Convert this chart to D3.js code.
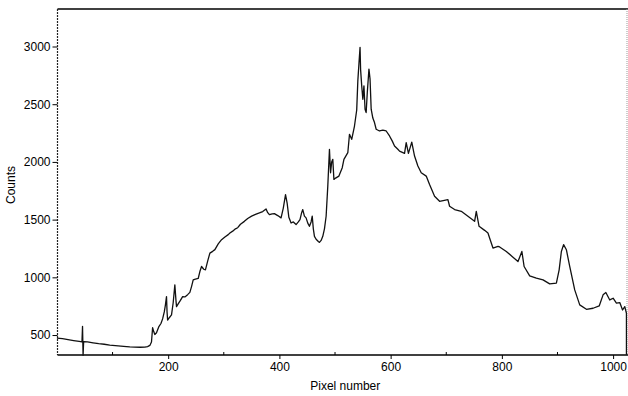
<!DOCTYPE html>
<html>
<head>
<meta charset="utf-8">
<script src="https://cdn.jsdelivr.net/npm/d3@7"></script>
<style>
  html, body { margin: 0; padding: 0; background: #fff; }
  svg { display: block; }
  text { font-family: "Liberation Sans", Arial, sans-serif; font-size: 12px; fill: #000; }
</style>
</head>
<body>
<svg id="chart" width="628" height="396"></svg>
<script>
// Spectrum: detector pixel index and measured counts
const pixels = [0, 10, 20, 30, 40, 45, 46, 47, 48, 55, 65, 75, 85, 95, 105, 115, 125, 131, 140, 150,
  158, 163, 167, 170, 172, 174, 176, 179, 183, 187, 190, 193, 195, 197, 198, 199, 202, 206, 209, 212,
  214, 215, 218, 222, 226, 230, 235, 239, 242, 245, 249, 254, 257, 260, 264, 267, 271, 275, 280, 284,
  290, 296, 302, 308, 311, 316, 321, 325, 330, 337, 343, 350, 357, 364, 370, 376, 379, 382, 387, 391,
  397, 403, 407, 411, 414, 417, 421, 425, 430, 434, 437, 440, 442, 445, 448, 451, 454, 457, 459, 461,
  463, 466, 470, 472, 475, 478, 481, 484, 487, 490, 492, 494, 496, 498, 501, 507, 513, 516, 523, 526,
  530, 535, 539, 541, 543, 545, 546, 548, 550, 552, 554, 556, 558, 561, 563, 565, 568, 571, 574, 580,
  586, 592, 598, 603, 607, 613, 616, 625, 628, 632, 638, 643, 649, 655, 664, 670, 679, 688, 703, 706,
  715, 727, 739, 751, 754, 759, 769, 775, 779, 784, 793, 796, 808, 820, 829, 836, 840, 850, 862, 874,
  886, 898, 903, 907, 911, 916, 922, 931, 940, 952, 964, 975, 982, 987, 994, 1000, 1006, 1012, 1017, 1021,
  1024, 1024];
const counts = [474, 468, 460, 452, 445, 440, 575, 326, 442, 440, 432, 425, 420, 413, 408, 404, 400, 398, 396, 394,
  395, 400, 410, 440, 563, 530, 505, 520, 570, 600, 640, 700, 760, 833, 700, 630, 650, 674, 780, 935,
  800, 746, 770, 800, 833, 830, 850, 870, 920, 978, 985, 990, 1050, 1094, 1070, 1065, 1140, 1210, 1225, 1240,
  1290, 1326, 1350, 1370, 1384, 1400, 1420, 1430, 1460, 1485, 1510, 1530, 1545, 1558, 1570, 1593, 1560, 1543, 1550, 1552,
  1535, 1515, 1600, 1717, 1640, 1520, 1471, 1480, 1457, 1480, 1500, 1560, 1587, 1530, 1515, 1470, 1442, 1480, 1530, 1420,
  1355, 1330, 1310, 1303, 1320, 1355, 1420, 1529, 1790, 2109, 1906, 2000, 2022, 1848, 1860, 1877, 1950, 2022, 2080, 2239,
  2196, 2311, 2450, 2700, 2850, 2993, 2800, 2659, 2543, 2659, 2457, 2428, 2600, 2804, 2717, 2457, 2380, 2341, 2283, 2268,
  2275, 2268, 2225, 2180, 2138, 2110, 2094, 2074, 2167, 2074, 2172, 2051, 1964, 1906, 1877, 1804, 1703, 1659, 1674, 1616,
  1587, 1572, 1529, 1485, 1572, 1442, 1407, 1384, 1326, 1254, 1268, 1263, 1224, 1175, 1137, 1224, 1094, 1013, 993, 978,
  943, 950, 1065, 1224, 1283, 1239, 1094, 891, 761, 723, 732, 752, 848, 868, 804, 819, 776, 781, 717, 746,
  689, 330];

const xTicks = [200, 400, 600, 800, 1000];
const xMinorTicks = [100, 300, 500, 700, 900];
const yTicks = [500, 1000, 1500, 2000, 2500, 3000];

const svg = d3.select("#chart");
const plotLeft = 57.5, plotRight = 627, plotTop = 9, plotBottom = 355;

const x = d3.scaleLinear().domain([1, 1025]).range([plotLeft, plotRight]);
const y = d3.scaleLinear().domain([327, 3325]).range([plotBottom, plotTop]);

// frame: top and right edges
svg.append("line").attr("x1", plotLeft).attr("x2", plotRight + 1).attr("y1", plotTop).attr("y2", plotTop)
  .attr("stroke", "#000").attr("stroke-width", 1.6);
svg.append("line").attr("x1", plotRight).attr("x2", plotRight).attr("y1", plotTop).attr("y2", plotBottom)
  .attr("stroke", "#999").attr("stroke-width", 1).attr("stroke-dasharray", "1,1");

// left axis
const yAxis = d3.axisLeft(y).tickValues(yTicks).tickSize(5).tickPadding(2).tickFormat(d3.format("d"));
const gy = svg.append("g").attr("transform", `translate(${plotLeft},0)`).call(yAxis);
gy.select(".domain").remove();
gy.selectAll(".tick line").attr("stroke", "#000");
gy.selectAll(".tick text").style("font-size", "12px").attr("fill", "#000");
svg.append("line").attr("x1", plotLeft).attr("x2", plotLeft).attr("y1", plotTop).attr("y2", plotBottom)
  .attr("stroke", "#222").attr("stroke-width", 1.2).attr("stroke-dasharray", "2,1");

// bottom axis
const xAxis = d3.axisBottom(x).tickValues(xTicks).tickSize(4).tickPadding(3).tickFormat(d3.format("d"));
const gx = svg.append("g").attr("transform", `translate(0,${plotBottom})`).call(xAxis);
gx.select(".domain").remove();
gx.selectAll(".tick line").attr("stroke", "#000");
gx.selectAll(".tick text").style("font-size", "12px").attr("fill", "#000");
svg.append("g").selectAll("line").data(xMinorTicks).join("line")
  .attr("x1", d => x(d)).attr("x2", d => x(d)).attr("y1", plotBottom).attr("y2", plotBottom - 3)
  .attr("stroke", "#000");
svg.append("line").attr("x1", plotLeft).attr("x2", plotRight + 1).attr("y1", plotBottom).attr("y2", plotBottom)
  .attr("stroke", "#000").attr("stroke-width", 1.4);

// axis titles
svg.append("text").attr("x", (plotLeft + plotRight) / 2 + 3).attr("y", 390)
  .attr("text-anchor", "middle").text("Pixel number");
svg.append("text").attr("transform", "translate(15,185) rotate(-90)")
  .attr("text-anchor", "middle").text("Counts");

// spectrum trace
const points = pixels.map((p, i) => [p, counts[i]]);
const line = d3.line().x(d => x(d[0])).y(d => y(d[1]));
svg.append("path").datum(points)
  .attr("d", line)
  .attr("fill", "none")
  .attr("stroke", "#111")
  .attr("stroke-width", 1.3)
  .attr("stroke-linejoin", "round");
</script>
</body>
</html>
